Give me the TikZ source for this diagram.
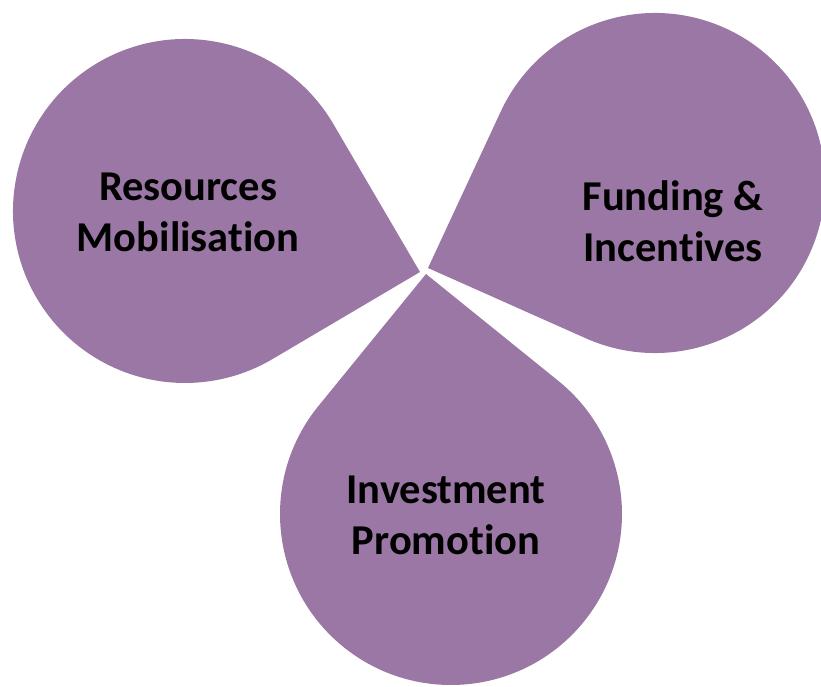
\documentclass[tikz,border=0pt]{standalone}
\usepackage{fontspec}
\setmainfont{Carlito}[RawFeature={-liga}]
\usetikzlibrary{calc}
\definecolor{dropfill}{RGB}{155,119,165}
\begin{document}
\begin{tikzpicture}[x=1pt,y=1pt,
  drop/.style={fill=dropfill},
  label/.style={font=\fontsize{42.5}{51}\selectfont\bfseries, align=center, text=black, inner sep=0pt}]
\useasboundingbox (0,0) rectangle (821,686);
\begin{scope}
\clip (0,0) rectangle (821,686);
% left drop
\coordinate (cL) at (185,475);
\coordinate (tL) at (420,414);
\fill[drop] (tL) -- ($(cL)+(30.35:172)$) arc[start angle=30.35, end angle=300.55, radius=172] -- cycle;
% right drop
\coordinate (cR) at (655,503);
\coordinate (tR) at (428,418);
\fill[drop] (tR) -- ($(cR)+(246.0:170)$) arc[start angle=246.0, end angle=515.06, radius=170] -- cycle;
% bottom drop
\coordinate (cB) at (451,172);
\coordinate (tB) at (426,412);
\fill[drop] (tB) -- ($(cB)+(140.82:171)$) arc[start angle=140.82, end angle=411.08, radius=171] -- cycle;
\end{scope}
\node[label] (res) at (188,474) {Resources\\Mobilisation};
\node[label] (fund) at (673,465) {Funding \&\\Incentives};
\node[label] (inv) at (446,171) {Investment\\Promotion};
\end{tikzpicture}
\end{document}
